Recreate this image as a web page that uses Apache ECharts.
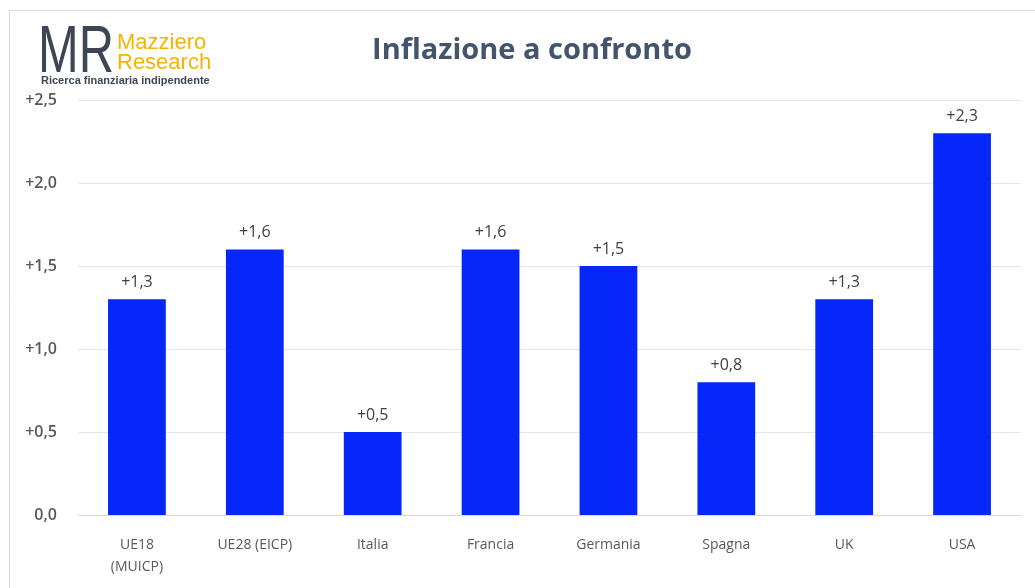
<!DOCTYPE html>
<html><head><meta charset="utf-8">
<script src="https://cdn.jsdelivr.net/npm/echarts@6/dist/echarts.min.js"></script>
<style>html,body{margin:0;padding:0;background:#fff}#c{width:1035px;height:588px}</style>
</head><body><div id="c"></div>
<script>
const categories = ['UE18\n(MUICP)', 'UE28 (EICP)', 'Italia', 'Francia', 'Germania', 'Spagna', 'UK', 'USA'];
const values = [1.3, 1.6, 0.5, 1.6, 1.5, 0.8, 1.3, 2.3];
const titleText = 'Inflazione a confronto';

function fmt(v){ const s = Math.abs(v).toFixed(1).replace('.', ','); return v > 0 ? '+' + s : s; }

const chart = echarts.init(document.getElementById('c'));
chart.setOption({
  animation: false,
  backgroundColor: '#fff',
  title: { text: titleText, left: 527, top: 31, textAlign: 'center',
    textStyle: { fontFamily: 'Open Sans', fontWeight: 'bold', fontSize: 29, color: '#44546A' } },
  grid: { left: 78, right: 14, top: 100, bottom: 73 },
  xAxis: { type: 'category', data: categories,
    axisLine: { lineStyle: { color: '#D9D9D9', width: 1 } }, axisTick: { show: false },
    axisLabel: { color: '#595959', fontFamily: 'Open Sans', fontSize: 14, margin: 19, lineHeight: 22 } },
  yAxis: { type: 'value', min: 0, max: 2.5, interval: 0.5,
    splitLine: { lineStyle: { color: '#E3E6EC', width: 1 } },
    axisLabel: { formatter: fmt, color: '#595959', fontFamily: 'Open Sans', fontWeight: 600, fontSize: 16, margin: 21 } },
  series: [{ type: 'bar', data: values, barWidth: '49%',
    itemStyle: { color: '#0527F9' },
    label: { show: true, position: 'top', distance: 9, formatter: p => fmt(p.value),
      color: '#404040', fontFamily: 'Open Sans', fontSize: 16 } }],
  graphic: [
    { type: 'rect', shape: { x: 9.5, y: 10.5, width: 1100, height: 700 }, style: { fill: 'none', stroke: '#D9D9D9', lineWidth: 1 }, silent: true },
    { type: 'text', x: 38, y: 21, scaleX: 0.74, style: { text: 'MR', font: '66px "Liberation Sans"', fill: '#3D4654' } },
    { type: 'text', left: 117, top: 32, style: { text: 'Mazziero', font: '22px "Liberation Sans"', fill: '#F5B400', lineHeight: 20 } },
    { type: 'text', left: 117, top: 52, style: { text: 'Research', font: '22px "Liberation Sans"', fill: '#F5B400', lineHeight: 20 } },
    { type: 'text', left: 41, top: 75, style: { text: 'Ricerca finanziaria indipendente', font: 'bold 11px "Liberation Sans"', fill: '#3D4654' } }
  ]
});
</script></body></html>
